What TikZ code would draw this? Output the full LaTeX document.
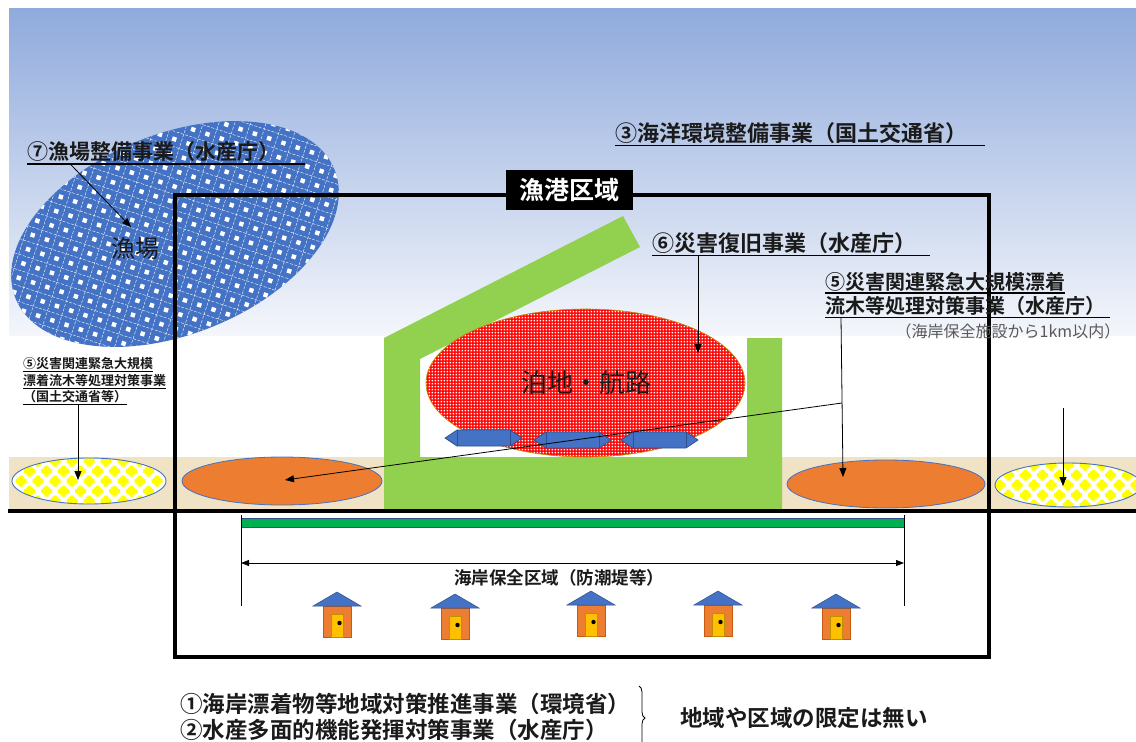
\documentclass[tikz,border=0pt]{standalone}
\usepackage{fontspec}
\setmainfont{Noto Sans CJK JP}[BoldFont={* Bold}]
\usetikzlibrary{arrows.meta,patterns.meta,decorations.pathreplacing}

\definecolor{skytop}{HTML}{8FAADC}
\definecolor{skybot}{HTML}{F4F6FB}
\definecolor{fgblue}{HTML}{4472C4}
\definecolor{edgeblue}{HTML}{2F528F}
\definecolor{grass}{HTML}{92D050}
\definecolor{sand}{HTML}{F0E2C5}
\definecolor{orng}{HTML}{ED7D31}
\definecolor{orngedge}{HTML}{C55A11}
\definecolor{gold}{HTML}{FFC000}
\definecolor{goldedge}{HTML}{BF9000}
\definecolor{wallgreen}{HTML}{00B050}
\definecolor{notegray}{HTML}{595959}
\definecolor{dotred}{HTML}{FF0000}
\definecolor{yel}{HTML}{FFFF00}
\definecolor{txt}{HTML}{1A1A1A}

% fine white dots on the anchorage
\tikzdeclarepattern{
  name=finedots,
  type=uncolored,
  bounding box={(0pt,0pt) and (3.4pt,3.4pt)},
  tile size={(3.4pt,3.4pt)},
  code={\pgfpathrectangle{\pgfqpoint{0.7pt}{0.7pt}}{\pgfqpoint{1.9pt}{1.9pt}}\pgfusepath{fill}}
}

\tikzset{
  lbl/.style={anchor=west, inner xsep=0pt, inner ysep=1.5pt, text=txt,
              font=\bfseries\fontsize{#1}{#1}\selectfont},
  lbl/.default=20,
  uline/.style={line width=1.5pt},
  arr/.style={line width=0.8pt, -{Triangle[length=9pt,width=7pt]}},
  dimarr/.style={line width=0.8pt,
                 {Triangle[length=8pt,width=6pt]}-{Triangle[length=8pt,width=6pt]}},
  guide/.style={line width=0.7pt},
  cottage/.pic={
    \filldraw[fill=orng, draw=orngedge, line width=0.5pt] (-14,14) rectangle (14,45);
    \filldraw[fill=fgblue, draw=edgeblue, line width=0.5pt] (-24,14) -- (0,0) -- (24,14) -- cycle;
    \filldraw[fill=gold, draw=goldedge, line width=0.5pt] (-6,22) rectangle (6,45);
    \fill[black] (2.5,31) circle (2.2);
  },
  navarrow/.pic={
    \filldraw[fill=fgblue, draw=edgeblue, line width=0.7pt]
      (0,0) -- (12,-8) -- (65,-8) -- (77,0) -- (65,8) -- (12,8) -- cycle;
    \draw[edgeblue, line width=0.7pt] (12,-8) -- (12,8) (65,-8) -- (65,8);
  },
}

% white ellipse filled with stepped yellow diamonds
\newcommand\chequerell[4]{%
  \begin{scope}
    \clip (#1,#2) ellipse [x radius=#3, y radius=#4];
    \fill[white] (#1-#3,#2-#4) rectangle (#1+#3,#2+#4);
    \foreach \r in {-3,...,3} {
      \foreach \c in {-6,...,6} {
        \pgfmathsetmacro\dx{\c*17 + mod(abs(\r),2)*8.5}
        \pgfmathsetmacro\dy{\r*10}
        \fill[yel, shift={(#1+\dx,#2+\dy)}]
          (-5.5,-1.8) rectangle (5.5,1.8) (-3.7,-3.7) rectangle (3.7,3.7) (-1.8,-5.5) rectangle (1.8,5.5);
      }
    }
  \end{scope}
  \draw[fgblue, line width=0.9pt] (#1,#2) ellipse [x radius=#3, y radius=#4];
}

\begin{document}
\begin{tikzpicture}[x=1pt,y=-1pt]
\useasboundingbox (0,0) rectangle (1136,742);
\fill[white] (0,0) rectangle (1136,742);

% sky
\shade[top color=skytop, bottom color=skybot] (9,8) rectangle (1136,335);

% fishing ground
\begin{scope}
  \clip[rotate around={22:(175,234)}] (175,234) ellipse [x radius=172, y radius=100];
  \fill[fgblue] (0,110) rectangle (360,360);
  \begin{scope}[shift={(175,234)}, rotate=-18]
    \foreach \i in {-13,...,13} {
      \draw[white, line width=0.4pt, dash pattern=on 3pt off 1.5pt]
        (\i*15+7.5,-210) -- (\i*15+7.5,210);
      \draw[white, line width=0.4pt, dash pattern=on 3pt off 1.5pt]
        (-210,\i*15+7.5) -- (210,\i*15+7.5);
      \foreach \j in {-13,...,13}
        \fill[white] (\i*15-2.2,\j*15-2.2) rectangle ++(4.4,4.4);
    }
  \end{scope}
\end{scope}

% beach strip
\fill[sand] (9,457) rectangle (1136,509);

% breakwaters
\fill[grass] (384,511) -- (384,338) -- (623,216) -- (640,247) -- (420,359)
  -- (420,457) -- (747,457) -- (747,338) -- (782,338) -- (782,511) -- cycle;

% anchorage and channel
\fill[dotred] (585.5,383) ellipse [x radius=159.5, y radius=74];
\fill[pattern=finedots, pattern color=white] (585.5,383) ellipse [x radius=159.5, y radius=74];
\draw[goldedge, line width=0.6pt] (585.5,383) ellipse [x radius=159.5, y radius=74];
\pic at (445,438) {navarrow};
\pic at (534,440) {navarrow};
\pic at (621,440) {navarrow};

% driftwood areas
\filldraw[fill=orng, draw=fgblue, line width=0.8pt] (282,481) ellipse [x radius=100, y radius=24];
\filldraw[fill=orng, draw=fgblue, line width=0.8pt] (886,484) ellipse [x radius=99, y radius=24];
\chequerell{89}{481}{77}{23}
\chequerell{1068}{485}{73}{22}

% shoreline
\draw[line width=3.5pt] (8,511) -- (1136,511);

% coastal protection zone
\filldraw[fill=wallgreen, draw=edgeblue, line width=0.6pt] (241,518) rectangle (904,527);
\draw[guide] (241,515) -- (241,606);
\draw[guide] (904,515) -- (904,606);
\coordinate (dl) at (241,563);
\coordinate (dr) at (904,563);
\draw[dimarr] (dl) -- (dr);
\node[font=\bfseries\fontsize{17.5}{17.5}\selectfont, text=txt] (zone) at (559,578) {海岸保全区域（防潮堤等）};

\foreach \hx/\hy in {337/592, 455/594, 591/591, 718/591, 836/594}
  \pic at (\hx,\hy) {cottage};

% fishing port area
\draw[line width=3.5pt] (175,195) rectangle (989,657);
\node[fill=black, text=white, minimum width=127, minimum height=40, inner sep=0pt,
      font=\bfseries\fontsize{25}{25}\selectfont] (port) at (569.5,190) {漁港区域};

% area names
\node[font=\fontsize{24}{24}\selectfont, text=txt] (ground) at (135,248) {漁場};
\node[font=\fontsize{26}{26}\selectfont, text=txt] (basin) at (586,383) {泊地・航路};

% project labels
\node[lbl=21] (l7) at (27,152) {⑦漁場整備事業（水産庁）};
\draw[uline] (l7.south west) -- ++(278,0);
\coordinate (t7) at (131,227);
\draw[arr] ([xshift=43pt]l7.south west) -- (t7);

\node[lbl=22] (l3) at (615,133) {③海洋環境整備事業（国土交通省）};
\draw[uline] (l3.south west) -- ++(370,0);

\node[lbl=22] (l6) at (652,243) {⑥災害復旧事業（水産庁）};
\draw[uline] (l6.south west) -- ++(278,0);
\coordinate (t6) at (698,353);
\draw[arr] ([xshift=46pt]l6.south west) -- (t6);

\node[lbl=20] (l5a) at (825,282) {⑤災害関連緊急大規模漂着};
\draw[uline] (l5a.south west) -- (l5a.south east);
\node[lbl=20] (l5b) at (825,306) {流木等処理対策事業（水産庁）};
\draw[uline] (l5b.south west) -- ++(285,0);
\node[font=\fontsize{16}{16}\selectfont, text=notegray] (note) at (1008,331) {（海岸保全施設から1km以内）};
\coordinate (t5r) at (843,477);
\coordinate (b5) at (842,403);
\coordinate (t5l) at (285,480);
\draw[arr] ([xshift=16pt]l5b.south west) -- (t5r);
\draw[arr] (b5) -- (t5l);

\node[lbl=13] (m1) at (23,364) {⑤災害関連緊急大規模};
\draw[line width=1.1pt] (m1.south west) -- (m1.south east);
\node[lbl=13] (m2) at (23,381) {漂着流木等処理対策事業};
\draw[line width=1.1pt] (m2.south west) -- (m2.south east);
\node[lbl=13] (m3) at (23,397) {（国土交通省等）};
\draw[line width=1.1pt] (m3.south west) -- (m3.south east);
\coordinate (tyl) at (78,480);
\draw[arr] ([xshift=55pt]m3.south west) -- (tyl);

\coordinate (syr) at (1063,408);
\coordinate (tyr) at (1063,486);
\draw[arr] (syr) -- (tyr);

% nationwide programmes
\node[lbl=22.5] (n1) at (180,704) {①海岸漂着物等地域対策推進事業（環境省）};
\node[lbl=22.5] (n2) at (180,730) {②水産多面的機能発揮対策事業（水産庁）};
\coordinate (br1) at (639,686);
\coordinate (br2) at (639,750);
\draw[decorate, decoration={brace, amplitude=6pt}, line width=0.8pt] (br1) -- (br2);
\node[lbl=22.5] (n3) at (680,718) {地域や区域の限定は無い};
\end{tikzpicture}
\end{document}
